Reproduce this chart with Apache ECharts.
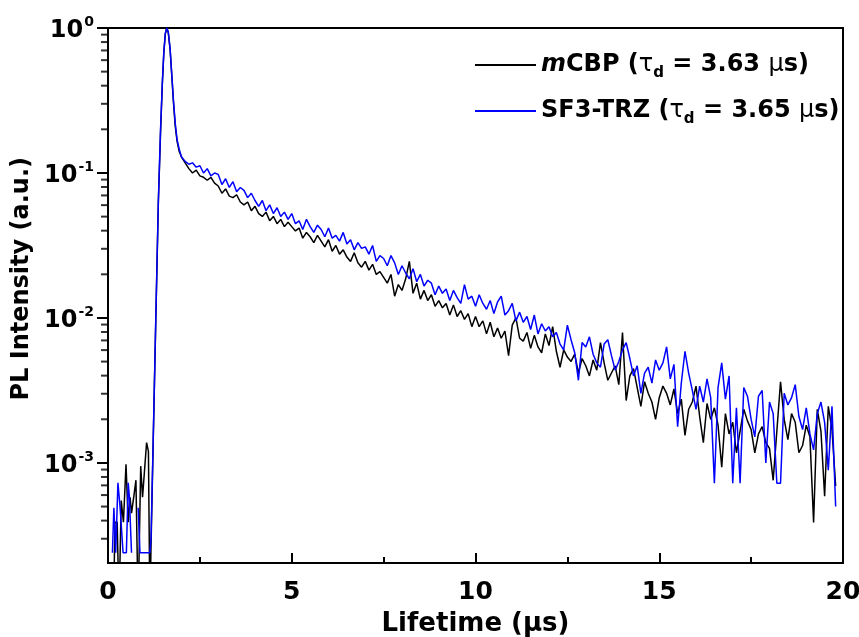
<!DOCTYPE html>
<html>
<head>
<meta charset="utf-8">
<title>PL decay</title>
<script src="https://cdn.jsdelivr.net/npm/echarts@6/dist/echarts.min.js"></script>
</head>
<body style="margin:0px">
<div id="main" style="width:859px;height:637px"></div>
<script>
// rise + peak, read as [time (us), intensity]
var mcbpHead = [
  [0.15,1e-4],[0.19,3.9e-4],[0.25,3.9e-4],[0.30,1e-4],[0.36,5.5e-4],[0.42,3.9e-4],[0.49,9.8e-4],
  [0.55,3.9e-4],[0.60,5.8e-4],[0.64,4.5e-4],[0.70,5.8e-4],[0.76,7.6e-4],[0.82,1e-4],[0.89,9.5e-4],
  [0.94,5.8e-4],[0.99,5.8e-4],[1.05,1.38e-3],[1.10,1.2e-3],[1.14,1e-4],[1.17,2.6e-4],[1.23,1.4e-3],
  [1.30,9.5e-3],[1.37,0.062],[1.43,0.19],[1.48,0.42],[1.52,0.68],[1.56,0.91],[1.60,1.0],[1.64,0.93],
  [1.69,0.71],[1.74,0.45],[1.78,0.31],[1.83,0.21],[1.88,0.165],[1.94,0.14]
];
var sf3Head = [
  [0.12,2.4e-4],[0.16,4.9e-4],[0.21,2.4e-4],[0.27,7.3e-4],[0.33,4.9e-4],[0.37,4.9e-4],[0.41,2.4e-4],
  [0.50,2.4e-4],[0.55,7.3e-4],[0.58,5.9e-4],[0.64,2.4e-4],[0.73,'-'],[0.82,4.9e-4],[0.87,2.4e-4],
  [1.14,2.4e-4],[1.17,3.0e-4],[1.23,1.44e-3],[1.30,9.8e-3],[1.37,0.064],[1.43,0.2],[1.48,0.43],
  [1.52,0.69],[1.56,0.92],[1.60,1.0],[1.64,0.94],[1.69,0.72],[1.74,0.46],[1.78,0.32],[1.83,0.22],
  [1.88,0.17],[1.94,0.145]
];

// decay tail, read as log10(intensity), every 0.1 us from 2.0 us
var tailStart = 2.0, tailStep = 0.1;
var mcbpTailLog = [
  -0.89,-0.93,-0.97,-1.00,-0.98,-1.02,-1.03,-1.05,-1.03,-1.07,
  -1.09,-1.14,-1.11,-1.16,-1.17,-1.15,-1.20,-1.22,-1.20,-1.26,
  -1.23,-1.28,-1.30,-1.27,-1.33,-1.30,-1.35,-1.32,-1.37,-1.34,
  -1.37,-1.40,-1.38,-1.45,-1.41,-1.44,-1.48,-1.43,-1.47,-1.51,
  -1.46,-1.54,-1.50,-1.56,-1.53,-1.58,-1.61,-1.55,-1.62,-1.65,
  -1.61,-1.67,-1.63,-1.70,-1.68,-1.72,-1.76,-1.70,-1.85,-1.77,
  -1.81,-1.73,-1.61,-1.83,-1.76,-1.87,-1.81,-1.88,-1.84,-1.92,
  -1.88,-1.93,-1.90,-1.98,-1.91,-1.99,-1.95,-2.01,-1.97,-2.06,
  -1.99,-2.06,-2.02,-2.11,-2.03,-2.13,-2.07,-2.14,-2.09,-2.26,
  -2.05,-2.00,-2.14,-2.16,-2.10,-2.21,-2.12,-2.20,-2.24,-2.11,
  -2.19,-2.06,-2.23,-2.34,-2.22,-2.27,-2.30,-2.25,-2.38,-2.28,
  -2.33,-2.40,-2.29,-2.36,-2.17,-2.31,-2.43,-2.38,-2.33,-2.46,
  -2.10,-2.57,-2.40,-2.35,-2.48,-2.61,-2.44,-2.52,-2.58,-2.70,
  -2.55,-2.47,-2.52,-2.60,-2.49,-2.66,-2.56,-2.81,-2.63,-2.58,
  -2.47,-2.68,-2.86,-2.59,-2.70,-2.62,-2.74,-3.03,-2.66,-2.80,
  -2.72,-2.93,-2.78,-2.63,-2.71,-2.77,-2.93,-2.80,-2.75,-2.86,
  -2.90,-3.12,-2.78,-2.44,-2.70,-2.84,-2.66,-2.72,-2.93,-2.88,
  -2.74,-2.82,-3.41,-2.63,-2.78,-3.23,-2.61,-2.77,-3.16
];
var sf3TailLog = [
  -0.89,-0.92,-0.94,-0.93,-0.96,-0.95,-1.00,-0.97,-1.02,-1.00,
  -1.01,-1.08,-1.04,-1.10,-1.06,-1.13,-1.10,-1.12,-1.17,-1.14,
  -1.19,-1.23,-1.19,-1.26,-1.22,-1.28,-1.24,-1.30,-1.27,-1.32,
  -1.28,-1.35,-1.33,-1.39,-1.32,-1.37,-1.41,-1.36,-1.39,-1.44,
  -1.38,-1.45,-1.43,-1.47,-1.41,-1.49,-1.46,-1.53,-1.48,-1.52,
  -1.51,-1.56,-1.50,-1.61,-1.57,-1.59,-1.64,-1.57,-1.62,-1.70,
  -1.64,-1.69,-1.73,-1.66,-1.75,-1.70,-1.78,-1.74,-1.76,-1.84,
  -1.78,-1.83,-1.80,-1.88,-1.81,-1.86,-1.90,-1.77,-1.87,-1.85,
  -1.92,-1.84,-1.90,-1.94,-1.88,-1.97,-1.89,-1.85,-1.98,-1.95,
  -1.90,-2.02,-1.96,-2.03,-1.99,-2.08,-1.98,-2.11,-2.04,-2.09,
  -2.06,-2.13,-2.10,-2.18,-2.22,-2.05,-2.15,-2.24,-2.43,-2.17,
  -2.20,-2.13,-2.25,-2.31,-2.34,-2.18,-2.15,-2.26,-2.36,-2.30,
  -2.22,-2.17,-2.28,-2.40,-2.33,-2.52,-2.38,-2.34,-2.45,-2.29,
  -2.36,-2.31,-2.20,-2.42,-2.32,-2.75,-2.45,-2.23,-2.38,-2.50,
  -2.63,-2.47,-2.58,-2.42,-2.55,-3.14,-2.48,-2.31,-2.56,-2.40,
  -3.14,-2.62,-3.14,-2.48,-2.54,-2.70,-2.82,-2.54,-2.50,-3.00,
  -2.58,-2.66,-3.14,-3.14,-2.52,-2.60,-2.55,-2.46,-2.68,-2.77,
  -2.62,-2.80,-2.91,-2.66,-2.58,-2.72,-3.05,-2.61,-3.30
];

var xTicks = [0, 5, 10, 15, 20];
var yMin = 2.04e-4, yMax = 1;

function buildSeries(head, tailLog) {
  var out = head.slice();
  for (var i = 0; i < tailLog.length; i++) {
    out.push([+(tailStart + i * tailStep).toFixed(2), Math.pow(10, tailLog[i])]);
  }
  return out;
}

// minor ticks of the log axis at 2..9 x 10^n
var yMinorTicks = [];
for (var n = -4; n < 0; n++) {
  for (var k = 2; k <= 9; k++) {
    var v = k * Math.pow(10, n);
    if (v > yMin && v < yMax) yMinorTicks.push([0, v]);
  }
}

var font = 'DejaVu Sans';
var legendRich = {
  n: { fontFamily: font, fontSize: 24, fontWeight: 'bold', color: '#000' },
  i: { fontFamily: font, fontSize: 24, fontWeight: 'bold', fontStyle: 'italic', color: '#000' },
  g: { fontFamily: font, fontSize: 24, fontWeight: 'normal', color: '#000' },
  d: { fontFamily: font, fontSize: 15, fontWeight: 'bold', color: '#000', padding: [16, 0, 0, 0] }
};

var chart = echarts.init(document.getElementById('main'));
chart.setOption({
  animation: false,
  grid: {
    left: 108, right: 16, top: 28, bottom: 74, show: true, borderColor: '#000', borderWidth: 2,
    containLabel: false, outerBoundsMode: 'none'
  },
  legend: [
    {
      data: ['mCBP'], left: 470, top: 48, icon: 'rect', itemWidth: 61, itemHeight: 2, itemGap: 7,
      formatter: function () { return '{i|m}{n|CBP (}{g|\u03c4}{d|d}{n| = 3.63 }{g|\u03bc}{n|s)}'; },
      textStyle: { rich: legendRich }
    },
    {
      data: ['SF3-TRZ'], left: 470, top: 94, icon: 'rect', itemWidth: 61, itemHeight: 2, itemGap: 7,
      formatter: function () { return '{n|SF3-TRZ (}{g|\u03c4}{d|d}{n| = 3.65 }{g|\u03bc}{n|s)}'; },
      textStyle: { rich: legendRich }
    }
  ],
  xAxis: {
    type: 'value', min: xTicks[0], max: xTicks[xTicks.length - 1], interval: 5,
    name: 'Lifetime (\u03bcs)', nameLocation: 'middle', nameGap: 48,
    nameTextStyle: { fontFamily: font, fontSize: 26, fontWeight: 'bold', color: '#000' },
    axisLine: { lineStyle: { color: '#000', width: 2 } },
    axisTick: { inside: true, length: 10, lineStyle: { width: 2 } },
    minorTick: { show: true, splitNumber: 2, length: 6, lineStyle: { color: '#000', width: 2 } },
    axisLabel: { fontFamily: font, fontSize: 25, fontWeight: 'bold', color: '#000', margin: 17 },
    splitLine: { show: false }
  },
  yAxis: {
    type: 'log', logBase: 10, min: yMin, max: yMax,
    axisLine: { show: true, lineStyle: { color: '#000', width: 2 } },
    axisTick: { inside: false, length: 11, lineStyle: { width: 2 } },
    axisLabel: {
      margin: 14, showMinLabel: false,
      formatter: function (val) {
        var e = Math.log10(val);
        if (Math.abs(e - Math.round(e)) > 1e-6) return '';
        return '{b|10}{s|' + Math.round(e) + '}';
      },
      rich: {
        b: { fontFamily: font, fontSize: 24, fontWeight: 'bold', color: '#000', padding: [6, 0, 0, 0] },
        s: { fontFamily: font, fontSize: 14, fontWeight: 'bold', color: '#000', padding: [0, 0, 12, 1] }
      }
    },
    splitLine: { show: false }
  },
  series: [
    {
      name: 'minor', type: 'scatter', silent: true, clip: false, data: yMinorTicks,
      symbol: 'rect', symbolSize: [7, 2], symbolOffset: [-3.5, 0],
      itemStyle: { color: '#000' }, z: 5
    },
    {
      name: 'mCBP', type: 'line', showSymbol: false, symbol: 'none',
      lineStyle: { color: '#000', width: 1.5 }, itemStyle: { color: '#000' },
      data: buildSeries(mcbpHead, mcbpTailLog)
    },
    {
      name: 'SF3-TRZ', type: 'line', showSymbol: false, symbol: 'none',
      lineStyle: { color: '#0000ff', width: 1.5 }, itemStyle: { color: '#0000ff' },
      data: buildSeries(sf3Head, sf3TailLog)
    }
  ],
  graphic: [
    {
      type: 'text', left: 10, top: 157, rotation: Math.PI / 2,
      style: { text: 'PL Intensity (a.u.)', fontFamily: font, fontSize: 24, fontWeight: 'bold', fill: '#000' }
    }
  ]
});
</script>
</body>
</html>
